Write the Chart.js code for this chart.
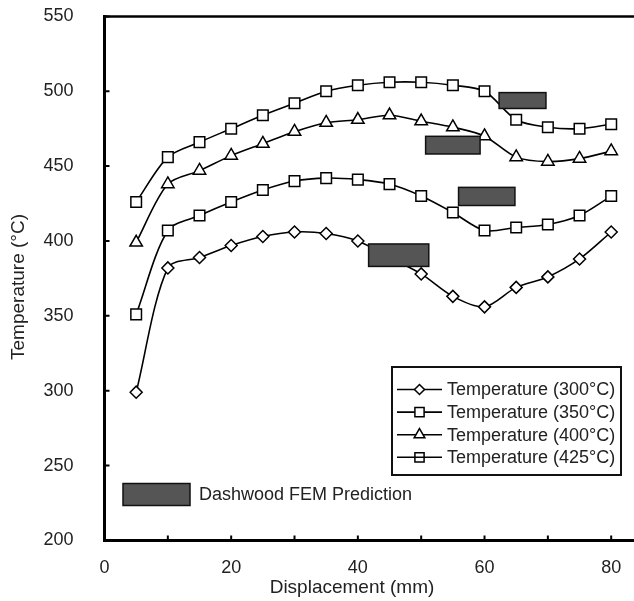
<!DOCTYPE html>
<html>
<head>
<meta charset="utf-8">
<title>Temperature vs Displacement</title>
<script src="https://cdn.jsdelivr.net/npm/chart.js@4.4.1/dist/chart.umd.min.js"></script>
<style>
  html, body { margin: 0; padding: 0; background: #fff; }
  #wrap { width: 634px; height: 601px; }
</style>
</head>
<body>
<div id="wrap"><canvas id="tempChart" width="634" height="601"></canvas></div>
<script>
// measurement positions (mm)
const displacement = [5, 10, 15, 20, 25, 30, 35, 40, 45, 50, 55, 60, 65, 70, 75, 80];

// measured temperatures (°C) for each set point
const temp300 = [299, 382, 389, 397, 403, 406, 405, 400, 389, 378, 363, 356, 369, 376, 388, 406];
const temp350 = [351, 407, 417, 426, 434, 440, 442, 441, 438, 430, 419, 407, 409, 411, 417, 430];
const temp400 = [399, 438, 447, 457, 465, 473, 479, 481, 484, 480, 476, 470, 456, 453, 455, 460];
const temp425 = [426, 456, 466, 475, 484, 492, 500, 504, 506, 506, 504, 500, 481, 476, 475, 478];

const seriesLabels = ['Temperature (300°C)', 'Temperature (350°C)', 'Temperature (400°C)', 'Temperature (425°C)'];
const seriesMarkers = ['rectRot', 'rect', 'triangle', 'rect'];

// Dashwood FEM prediction boxes (displacement from/to, temperature low/high)
const femFrom = [62.3, 50.7, 55.9, 41.7];
const femTo = [69.7, 59.3, 64.8, 51.2];
const femLow = [488.5, 458.1, 423.7, 383.0];
const femHigh = [499.1, 469.9, 435.8, 398.0];
const femLabel = 'Dashwood FEM Prediction';

// axes
const xTicks = [0, 10, 20, 30, 40, 50, 60, 70, 80];
const xLabelled = [0, 20, 40, 60, 80];
const yTicks = [200, 250, 300, 350, 400, 450, 500, 550];
const X_MAX = 83.6;

const FONT = "'Liberation Sans', Arial, Helvetica, sans-serif";
const TEXT = '#222';

const markerRadius = { rectRot: 6, rect: 7.5, triangle: 7.2 };

function makeSeries(label, values, marker) {
  return {
    label: label,
    data: displacement.map((d, i) => ({ x: d, y: values[i] })),
    borderColor: '#000',
    borderWidth: 1.6,
    pointStyle: marker,
    pointRadius: markerRadius[marker],
    pointBorderWidth: 1.5,
    pointBorderColor: '#000',
    pointBackgroundColor: '#fff',
    tension: 0.3,
    fill: false
  };
}

const figureExtras = {
  id: 'figureExtras',
  afterDatasetsDraw(chart) {
    const { ctx } = chart;
    const xs = chart.scales.x, ys = chart.scales.y;
    ctx.save();
    ctx.fillStyle = '#555';
    ctx.strokeStyle = '#111';
    ctx.lineWidth = 1.5;
    for (let i = 0; i < femFrom.length; i++) {
      const l = xs.getPixelForValue(femFrom[i]);
      const r = xs.getPixelForValue(femTo[i]);
      const t = ys.getPixelForValue(femHigh[i]);
      const b = ys.getPixelForValue(femLow[i]);
      ctx.fillRect(l, t, r - l, b - t);
      ctx.strokeRect(l, t, r - l, b - t);
    }
    ctx.restore();
  },
  afterDraw(chart) {
    const { ctx, chartArea } = chart;
    const xs = chart.scales.x, ys = chart.scales.y;
    ctx.save();

    // top frame line
    ctx.strokeStyle = '#000';
    ctx.lineWidth = 2.5;
    ctx.beginPath();
    ctx.moveTo(chartArea.left - 1.5, chartArea.top);
    ctx.lineTo(chartArea.right, chartArea.top);
    ctx.stroke();

    // inward tick marks
    ctx.lineWidth = 2;
    ctx.beginPath();
    yTicks.forEach(v => {
      const py = ys.getPixelForValue(v);
      ctx.moveTo(chartArea.left, py);
      ctx.lineTo(chartArea.left + 5, py);
    });
    xTicks.forEach(v => {
      const px = xs.getPixelForValue(v);
      ctx.moveTo(px, chartArea.bottom);
      ctx.lineTo(px, chartArea.bottom - 5);
    });
    ctx.stroke();

    // legend box
    ctx.fillStyle = '#fff';
    ctx.fillRect(392, 367, 229, 108);
    ctx.strokeStyle = '#111';
    ctx.lineWidth = 2;
    ctx.strokeRect(392, 367, 229, 108);
    ctx.font = '18px ' + FONT;
    ctx.textBaseline = 'middle';
    ctx.textAlign = 'left';
    seriesLabels.forEach((lab, i) => {
      const ry = 389.5 + i * 22.6;
      ctx.strokeStyle = '#000';
      ctx.lineWidth = 1.6;
      ctx.beginPath();
      ctx.moveTo(397, ry);
      ctx.lineTo(442, ry);
      ctx.stroke();
      ctx.fillStyle = i === 3 ? 'rgba(0,0,0,0)' : '#fff';
      ctx.strokeStyle = '#000';
      ctx.lineWidth = 1.5;
      Chart.helpers.drawPoint(ctx, {
        pointStyle: seriesMarkers[i],
        radius: markerRadius[seriesMarkers[i]] - 1,
        borderWidth: 1.5,
        rotation: 0
      }, 419.5, ry);
      ctx.fillStyle = TEXT;
      ctx.fillText(lab, 447, ry + 1);
    });

    // FEM legend entry
    ctx.fillStyle = '#555';
    ctx.strokeStyle = '#111';
    ctx.lineWidth = 1.5;
    ctx.fillRect(123, 483.5, 67, 22);
    ctx.strokeRect(123, 483.5, 67, 22);
    ctx.fillStyle = TEXT;
    ctx.fillText(femLabel, 199, 495);

    // axis titles
    ctx.font = '19px ' + FONT;
    ctx.textAlign = 'center';
    ctx.textBaseline = 'alphabetic';
    ctx.fillText('Displacement (mm)', 352, 593);
    ctx.translate(24, 287);
    ctx.rotate(-Math.PI / 2);
    ctx.fillText('Temperature (°C)', 0, 0);

    ctx.restore();
  }
};

new Chart(document.getElementById('tempChart'), {
  type: 'line',
  data: {
    datasets: [
      makeSeries(seriesLabels[0], temp300, seriesMarkers[0]),
      makeSeries(seriesLabels[1], temp350, seriesMarkers[1]),
      makeSeries(seriesLabels[2], temp400, seriesMarkers[2]),
      makeSeries(seriesLabels[3], temp425, seriesMarkers[3])
    ]
  },
  plugins: [figureExtras],
  options: {
    responsive: false,
    animation: false,
    devicePixelRatio: 1,
    layout: { autoPadding: false, padding: { top: 16.4, right: 0, bottom: 0, left: 0 } },
    plugins: {
      legend: { display: false },
      tooltip: { enabled: false },
      title: { display: false }
    },
    scales: {
      x: {
        type: 'linear',
        min: 0,
        max: X_MAX,
        afterBuildTicks: scale => { scale.ticks = xTicks.map(v => ({ value: v })); },
        afterFit: scale => {
          scale.height = 60.6;
          scale.paddingLeft = 0;
          scale.paddingRight = 0;
        },
        grid: { drawOnChartArea: false, drawTicks: false },
        border: { display: true, color: '#000', width: 3 },
        ticks: {
          autoSkip: false,
          maxRotation: 0,
          padding: 17,
          color: TEXT,
          font: { family: FONT, size: 18 },
          callback: v => xLabelled.includes(v) ? String(v) : ''
        }
      },
      y: {
        min: 200,
        max: 550,
        afterBuildTicks: scale => { scale.ticks = yTicks.map(v => ({ value: v })); },
        afterFit: scale => {
          scale.width = 104.5;
          scale.paddingTop = 0;
          scale.paddingBottom = 0;
        },
        grid: { drawOnChartArea: false, drawTicks: false },
        border: { display: true, color: '#000', width: 3 },
        ticks: {
          padding: 31,
          color: TEXT,
          font: { family: FONT, size: 18 }
        }
      }
    }
  }
});
</script>
</body>
</html>
